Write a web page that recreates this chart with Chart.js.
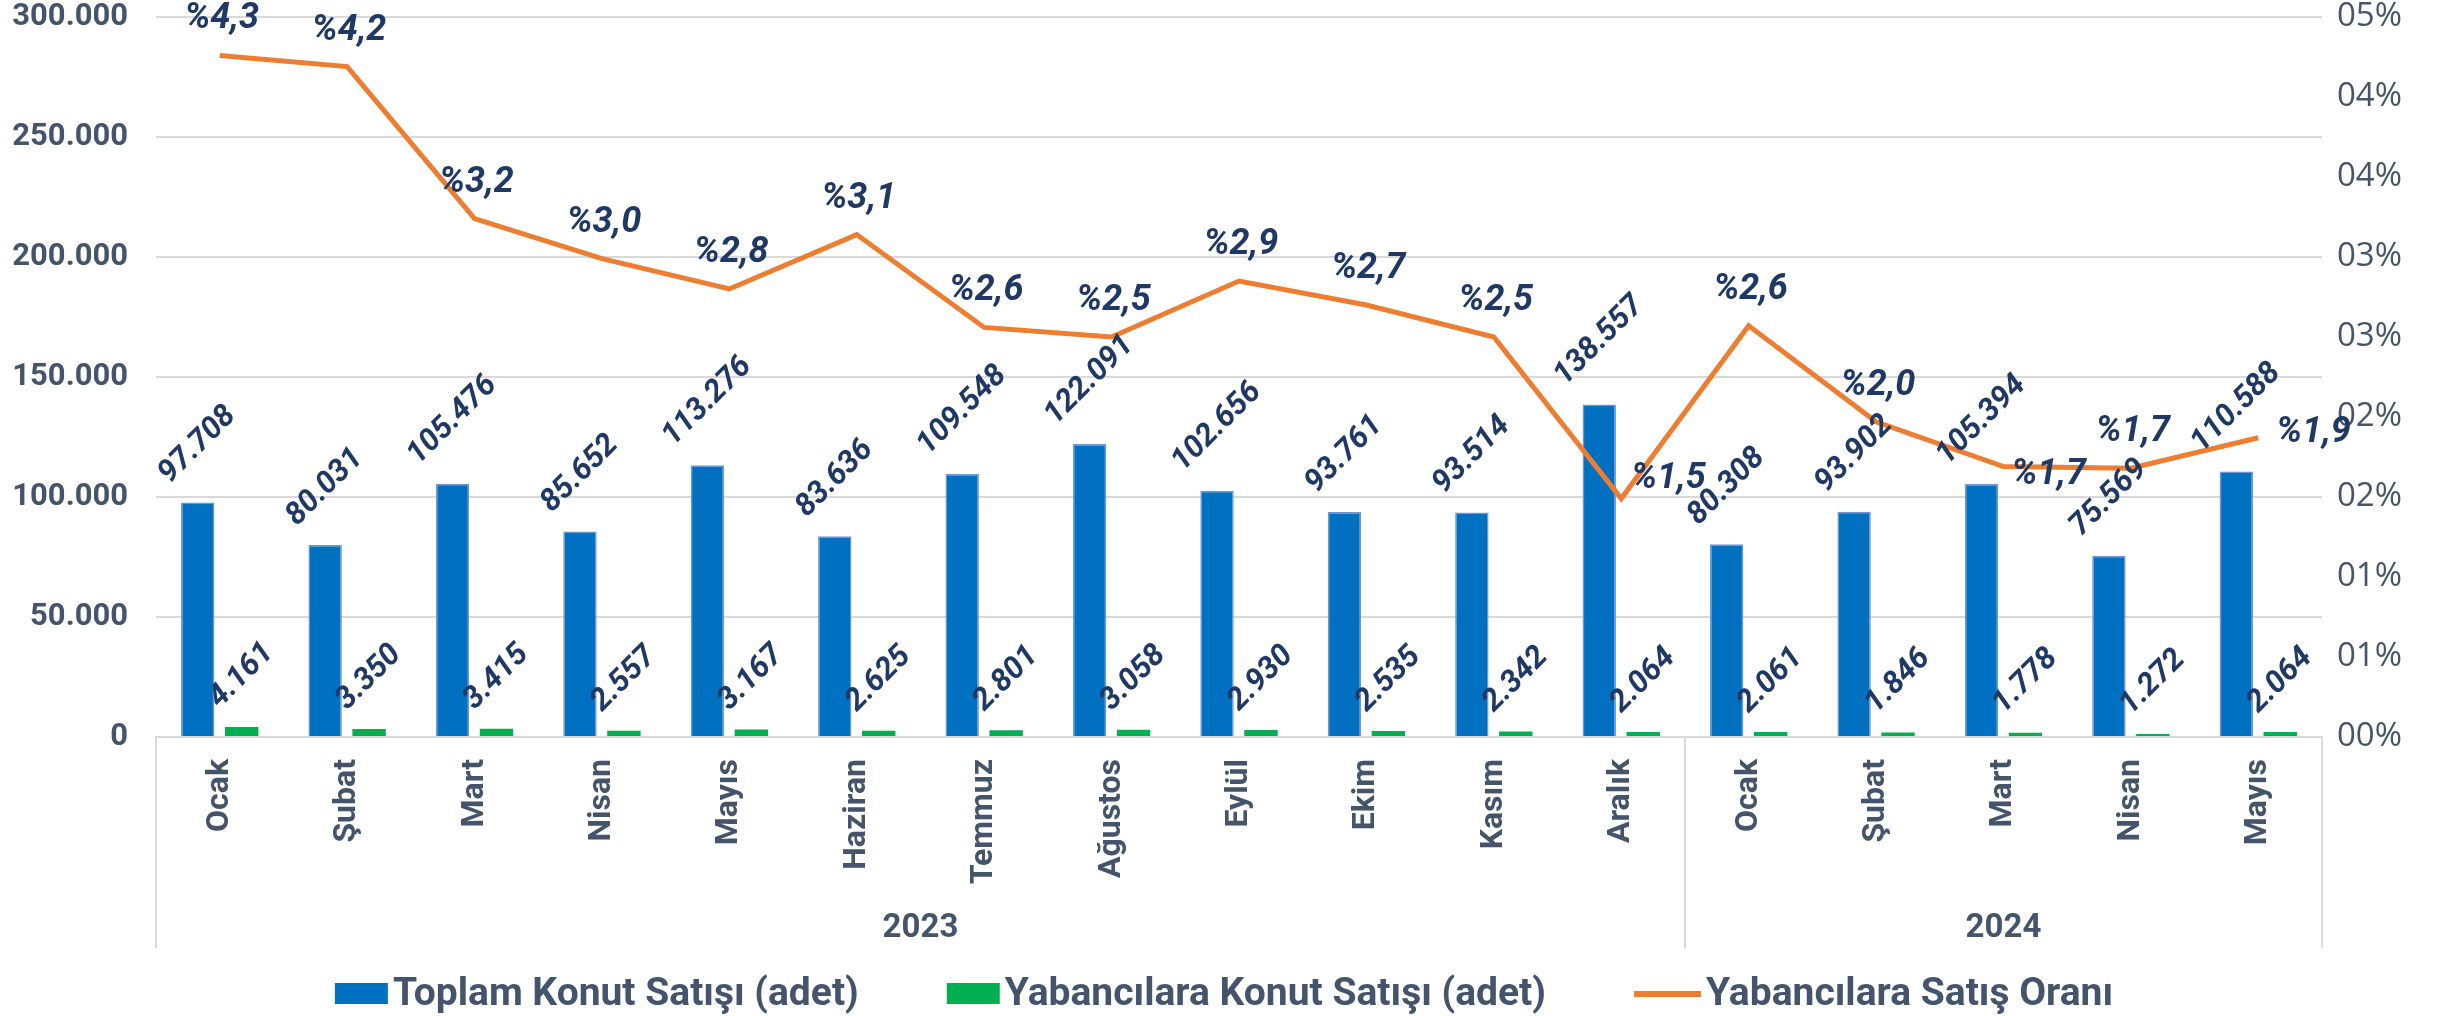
<!DOCTYPE html>
<html>
<head>
<meta charset="utf-8">
<script src="https://cdn.jsdelivr.net/npm/chart.js@4.4.1/dist/chart.umd.min.js"></script>
<style>
  html, body { margin: 0; padding: 0; background: #fff; }
  #wrap { width: 2448px; height: 1016px; }
</style>
</head>
<body>
<div id="wrap"><canvas id="konutChart" width="2448" height="1016"></canvas></div>
<script>
// veriler
const aylar = ['Ocak', 'Şubat', 'Mart', 'Nisan', 'Mayıs', 'Haziran', 'Temmuz', 'Ağustos', 'Eylül', 'Ekim', 'Kasım', 'Aralık', 'Ocak', 'Şubat', 'Mart', 'Nisan', 'Mayıs'];
const yillar = ['2023', '2024'];
const yilAySayisi = [12, 5];
const toplamSatis = [97708, 80031, 105476, 85652, 113276, 83636, 109548, 122091, 102656, 93761, 93514, 138557, 80308, 93902, 105394, 75569, 110588];
const yabanciSatis = [4161, 3350, 3415, 2557, 3167, 2625, 2801, 3058, 2930, 2535, 2342, 2064, 2061, 1846, 1778, 1272, 2064];
const yabanciOran = [4.26, 4.19, 3.24, 2.99, 2.80, 3.14, 2.56, 2.50, 2.85, 2.70, 2.50, 1.49, 2.57, 1.97, 1.69, 1.68, 1.87];
const solEksenMax = 300000;
const solEksenAdim = 50000;
const sagEksenMax = 4.5;
const sagEksenAdim = 0.5;

const FONT = 'Roboto';
const SLATE = '#44546A';
const NAVY = '#1F3864';

// oran etiketlerinin yeri (varsayılan: üstte)
const oranEtiketKonum = { 11: { dx: 10, dy: -20 }, 14: { dx: 8, dy: 8 }, 16: { dx: 18, dy: -5 } };

function binlik(v) {
    return String(v).replace(/\B(?=(\d{3})+(?!\d))/g, '.');
}

// eksen kenar boşluklarını sıfırla
function sifirPadding(s) {
    s.paddingTop = 0;
    s.paddingBottom = 0;
    s.paddingLeft = 0;
    s.paddingRight = 0;
}

// çubuk ve oran değer etiketleri
const barLabels = {
    id: 'barLabels',
    afterDatasetsDraw(chart) {
        const ctx = chart.ctx;
        ctx.save();
        ctx.font = `italic bold 31px ${FONT}`;
        ctx.fillStyle = NAVY;
        ctx.textAlign = 'center';
        ctx.textBaseline = 'middle';
        [0, 1].forEach(di => {
            const meta = chart.getDatasetMeta(di);
            meta.data.forEach((bar, i) => {
                const txt = binlik(chart.data.datasets[di].data[i]);
                const w = ctx.measureText(txt).width;
                const cy = bar.y - w * 0.707 / 2 - 24;
                ctx.save();
                ctx.translate(bar.x, cy);
                ctx.rotate(-Math.PI / 4);
                ctx.fillText(txt, 0, 0);
                ctx.restore();
            });
        });

        ctx.font = `italic bold 36px ${FONT}`;
        const meta = chart.getDatasetMeta(2);
        meta.data.forEach((pt, i) => {
            const txt = '%' + yabanciOran[i].toFixed(1).replace('.', ',');
            const k = oranEtiketKonum[i];
            if (k) {
                ctx.textAlign = 'left';
                ctx.fillText(txt, pt.x + k.dx, pt.y + k.dy);
            } else {
                ctx.textAlign = 'center';
                ctx.fillText(txt, pt.x + 2, pt.y - 36);
            }
        });
        ctx.restore();
    }
};

// yıl grupları ve lejant
const extras = {
    id: 'extras',
    afterDraw(chart) {
        const ctx = chart.ctx;
        const x = chart.scales.x;
        const step = (x.right - x.left) / aylar.length;
        const top = x.top;
        const bottom = 948;
        ctx.save();
        ctx.strokeStyle = '#D9D9D9';
        ctx.lineWidth = 2;
        let idx = 0;
        const sinirlar = [0];
        yilAySayisi.forEach(n => { idx += n; sinirlar.push(idx); });
        sinirlar.forEach(b => {
            const px = Math.round(x.left + b * step);
            ctx.beginPath();
            ctx.moveTo(px, top);
            ctx.lineTo(px, bottom);
            ctx.stroke();
        });
        ctx.fillStyle = SLATE;
        ctx.font = `bold 33px ${FONT}`;
        ctx.textAlign = 'center';
        ctx.textBaseline = 'middle';
        yillar.forEach((y, i) => {
            const cx = x.left + (sinirlar[i] + sinirlar[i + 1]) / 2 * step;
            ctx.fillText(y, cx, 929);
        });

        // lejant
        const items = chart.data.datasets.map(d => ({ label: d.label, color: d.type === 'line' ? d.borderColor : d.backgroundColor, line: d.type === 'line' }));
        ctx.font = `bold 39px ${FONT}`;
        ctx.textAlign = 'left';
        const markerW = [53, 53, 67];
        const gap = 88;
        let total = 0;
        items.forEach((it, i) => {
            it.w = ctx.measureText(it.label).width;
            total += markerW[i] + 5 + it.w + (i < items.length - 1 ? gap : 0);
        });
        let cx = (chart.width - total) / 2;
        const ly = 994;
        items.forEach((it, i) => {
            if (it.line) {
                ctx.strokeStyle = it.color;
                ctx.lineWidth = 6;
                ctx.beginPath();
                ctx.moveTo(cx, ly);
                ctx.lineTo(cx + markerW[i], ly);
                ctx.stroke();
            } else {
                ctx.fillStyle = it.color;
                ctx.fillRect(cx, ly - 11, markerW[i], 21);
            }
            cx += markerW[i] + 5;
            ctx.fillStyle = SLATE;
            ctx.fillText(it.label, cx, ly + 1);
            cx += it.w + gap;
        });
        ctx.restore();
    }
};

const ctx = document.getElementById('konutChart').getContext('2d');
new Chart(ctx, {
    type: 'bar',
    data: {
        labels: aylar,
        datasets: [
            {
                label: 'Toplam Konut Satışı (adet)',
                data: toplamSatis,
                backgroundColor: '#0070C0',
                borderColor: '#6F95D5',
                borderWidth: 1.5,
                yAxisID: 'y',
                order: 2,
                categoryPercentage: 0.69,
                barPercentage: 0.76
            },
            {
                label: 'Yabancılara Konut Satışı (adet)',
                data: yabanciSatis,
                backgroundColor: '#00B050',
                yAxisID: 'y',
                order: 2,
                categoryPercentage: 0.69,
                barPercentage: 0.76
            },
            {
                type: 'line',
                label: 'Yabancılara Satış Oranı',
                data: yabanciOran,
                borderColor: '#ED7D31',
                backgroundColor: '#ED7D31',
                borderWidth: 5,
                pointRadius: 0,
                tension: 0,
                yAxisID: 'y1',
                order: 0
            }
        ]
    },
    options: {
        responsive: false,
        animation: false,
        layout: { padding: { top: 17, bottom: 68, left: 0, right: 0 } },
        plugins: {
            legend: { display: false },
            tooltip: { enabled: false }
        },
        scales: {
            x: {
                grid: { display: false, drawTicks: false },
                border: { color: '#D9D9D9', width: 2 },
                ticks: {
                    color: SLATE,
                    font: { family: FONT, weight: 'bold', size: 32 },
                    maxRotation: 90,
                    minRotation: 90,
                    padding: 22,
                    autoSkip: false
                },
                afterFit: s => { s.height = 211; sifirPadding(s); }
            },
            y: {
                position: 'left',
                min: 0,
                max: solEksenMax,
                grid: { color: '#D9D9D9', lineWidth: 2, drawTicks: false },
                border: { display: false },
                ticks: {
                    stepSize: solEksenAdim,
                    color: SLATE,
                    font: { family: FONT, weight: 'bold', size: 31 },
                    padding: 28,
                    callback: v => binlik(v)
                },
                afterFit: s => { s.width = 156; sifirPadding(s); }
            },
            y1: {
                position: 'right',
                min: 0,
                max: sagEksenMax,
                grid: { display: false, drawTicks: false },
                border: { display: false },
                ticks: {
                    stepSize: sagEksenAdim,
                    color: SLATE,
                    font: { family: 'Open Sans', size: 33 },
                    padding: 15,
                    callback: v => String(Math.round(v)).padStart(2, '0') + '%'
                },
                afterFit: s => { s.width = 126; sifirPadding(s); }
            }
        }
    },
    plugins: [barLabels, extras]
});
</script>
</body>
</html>
